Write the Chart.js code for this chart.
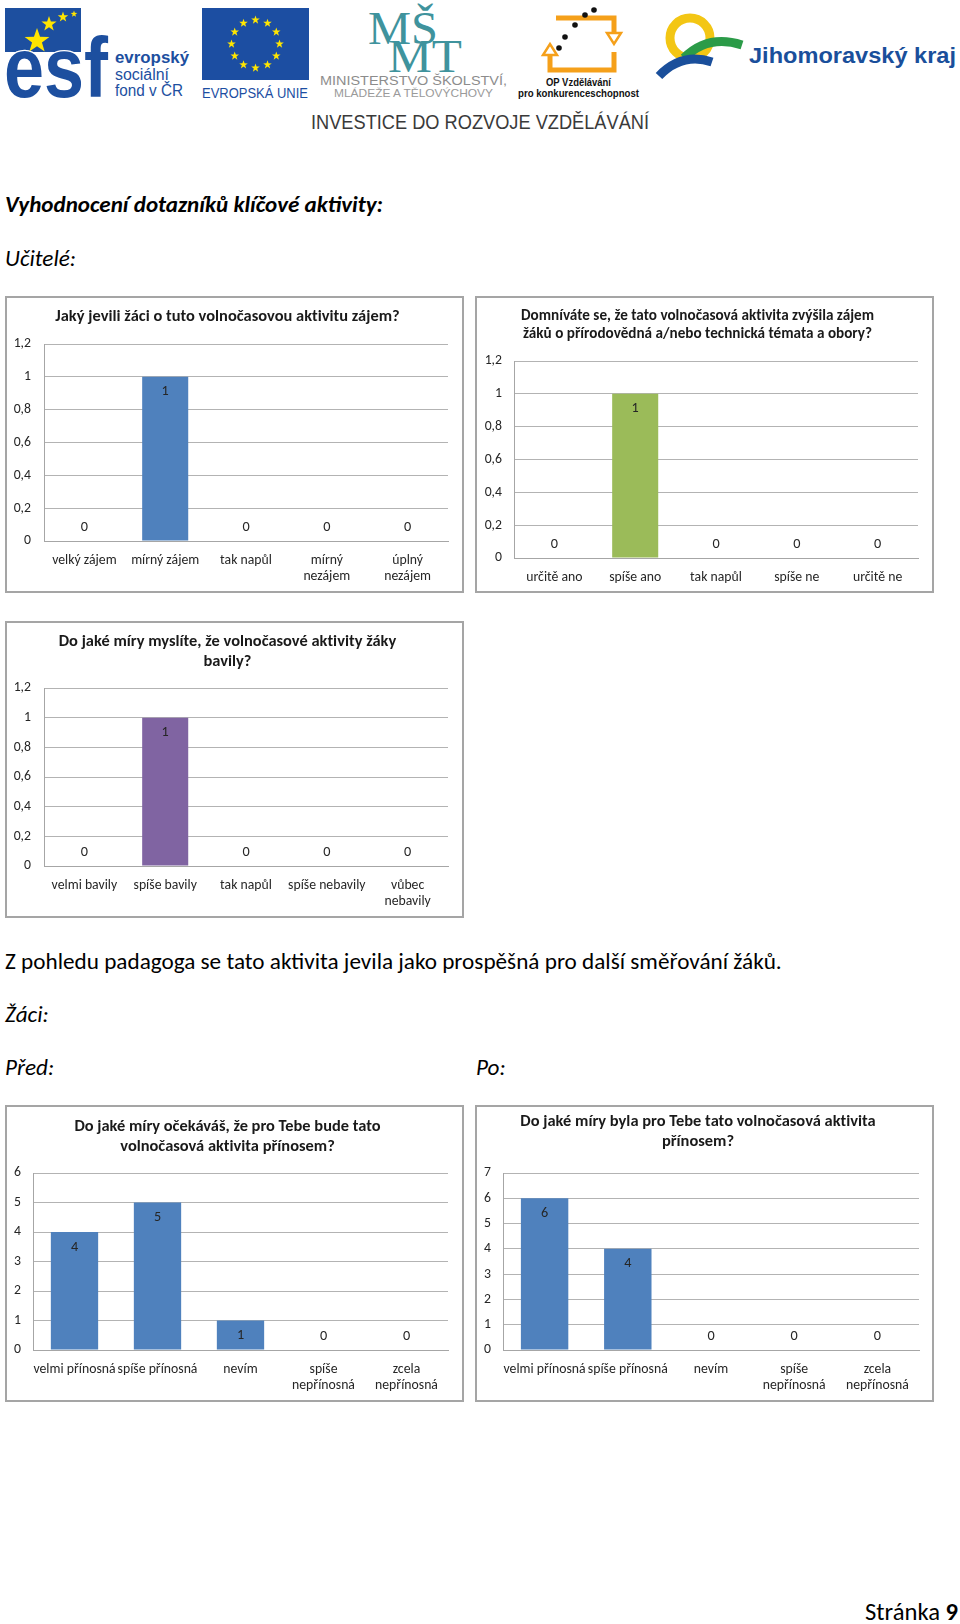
<!DOCTYPE html>
<html><head><meta charset="utf-8">
<script src="https://cdn.jsdelivr.net/npm/chart.js@4/dist/chart.umd.min.js"></script>
<style>
html,body{margin:0;padding:0;background:#fff;}
body{width:960px;height:1624px;position:relative;overflow:hidden;color:#000;}
.t{position:absolute;white-space:nowrap;line-height:1;font-variant-ligatures:none;}
.box{position:absolute;width:455px;height:293px;border:2px solid #a5a5a5;background:#fff;}
.box canvas{display:block;}
#hdr{position:absolute;left:0;top:0;}
</style></head><body>
<svg id="hdr" width="960" height="140" xmlns="http://www.w3.org/2000/svg"></svg>

<div class="t" id="tHead">Vyhodnocení dotazníků klíčové aktivity:</div>
<div class="t" id="tUcitele">Učitelé:</div>
<div class="t" id="tZ">Z pohledu padagoga se tato aktivita jevila jako prospěšná pro další směřování žáků.</div>
<div class="t" id="tZaci">Žáci:</div>
<div class="t" id="tPred">Před:</div>
<div class="t" id="tPo">Po:</div>
<div class="t" id="tPage">Stránka <b>9</b></div>

<div class="box" style="left:5px;top:296px"><canvas id="c1" width="455" height="293"></canvas></div>
<div class="box" style="left:475px;top:296px"><canvas id="c2" width="455" height="293"></canvas></div>
<div class="box" style="left:5px;top:621px"><canvas id="c3" width="455" height="293"></canvas></div>
<div class="box" style="left:5px;top:1105px"><canvas id="c4" width="455" height="293"></canvas></div>
<div class="box" style="left:475px;top:1105px"><canvas id="c5" width="455" height="293"></canvas></div>

<script>
// ---------- DATA ----------
const title1 = ['Jaký jevili žáci o tuto volnočasovou aktivitu zájem?'];
const categories1 = ['velký zájem', 'mírný zájem', 'tak napůl', ['mírný', 'nezájem'], ['úplný', 'nezájem']];
const values1 = [0, 1, 0, 0, 0];

const title2 = ['Domníváte se, že tato volnočasová aktivita zvýšila zájem', 'žáků o přírodovědná a/nebo technická témata a obory?'];
const categories2 = ['určitě ano', 'spíše ano', 'tak napůl', 'spíše ne', 'určitě ne'];
const values2 = [0, 1, 0, 0, 0];

const title3 = ['Do jaké míry myslíte, že volnočasové aktivity žáky', 'bavily?'];
const categories3 = ['velmi bavily', 'spíše bavily', 'tak napůl', 'spíše nebavily', ['vůbec', 'nebavily']];
const values3 = [0, 1, 0, 0, 0];

const title4 = ['Do jaké míry očekáváš, že pro Tebe bude tato', 'volnočasová aktivita přínosem?'];
const categories4 = ['velmi přínosná', 'spíše přínosná', 'nevím', ['spíše', 'nepřínosná'], ['zcela', 'nepřínosná']];
const values4 = [4, 5, 1, 0, 0];

const title5 = ['Do jaké míry byla pro Tebe tato volnočasová aktivita', 'přínosem?'];
const categories5 = ['velmi přínosná', 'spíše přínosná', 'nevím', ['spíše', 'nepřínosná'], ['zcela', 'nepřínosná']];
const values5 = [6, 4, 0, 0, 0];

const ticksDecimal = ['0', '0,2', '0,4', '0,6', '0,8', '1', '1,2'];
const ticksSix = ['0', '1', '2', '3', '4', '5', '6'];
const ticksSeven = ['0', '1', '2', '3', '4', '5', '6', '7'];
const yMaxDecimal = 1.2, yStepDecimal = 0.2;
const yMaxSix = 6, yMaxSeven = 7, yStepUnit = 1;

// ---------- HELPERS ----------
const FAM = "Carlito, Lato, 'Open Sans', sans-serif";
const mctx = document.createElement('canvas').getContext('2d');
function fitSize(text, style, family, target) {
  mctx.font = style + ' 100px ' + family;
  return 100 * target / mctx.measureText(text).width;
}
function place(id, style, size, x, cy, alignRight) {
  const el = document.getElementById(id);
  el.style.font = style + ' ' + size.toFixed(2) + 'px ' + FAM;
  el.style.top = (cy - 0.58 * size) + 'px';
  if (alignRight) { el.style.right = (960 - x) + 'px'; } else { el.style.left = x + 'px'; }
}

// ---------- PAGE TEXT ----------
const headSize = fitSize('Vyhodnocení dotazníků klíčové aktivity:', 'italic bold', FAM, 378);
const bodySize = fitSize('Z pohledu padagoga se tato aktivita jevila jako prospěšná pro další směřování žáků.', 'normal', FAM, 777);
place('tHead', 'italic bold', headSize, 5, 203);
place('tUcitele', 'italic', bodySize, 5, 257);
place('tZ', 'normal', bodySize, 5, 960);
place('tZaci', 'italic', bodySize, 5, 1013);
place('tPred', 'italic', bodySize, 5, 1066);
place('tPo', 'italic', bodySize, 476, 1066);
place('tPage', 'normal', fitSize('Stránka 9', 'normal', FAM, 93), 958, 1611, true);

// ---------- HEADER LOGOS ----------
(function buildHeader() {
  const svg = document.getElementById('hdr');
  const NS = 'http://www.w3.org/2000/svg';
  function el(name, attrs, text) {
    const e = document.createElementNS(NS, name);
    for (const k in attrs) e.setAttribute(k, attrs[k]);
    if (text) e.textContent = text;
    svg.appendChild(e); return e;
  }
  function star(cx, cy, r, fill) {
    const pts = [];
    for (let i = 0; i < 10; i++) {
      const a = -Math.PI / 2 + i * Math.PI / 5;
      const rr = i % 2 ? r * 0.4 : r;
      pts.push((cx + rr * Math.cos(a)).toFixed(2) + ',' + (cy + rr * Math.sin(a)).toFixed(2));
    }
    el('polygon', { points: pts.join(' '), fill: fill });
  }
  const SANS = "'Liberation Sans', Arial, sans-serif";
  // ESF
  el('rect', { x: 5, y: 8, width: 76, height: 44, fill: '#1d4f9f' });
  el('text', { x: 4, y: 97, 'font-family': SANS, 'font-weight': 'bold', 'font-size': 86, fill: '#1d4f9f', stroke: '#fff', 'stroke-width': 2.5, textLength: 104, lengthAdjust: 'spacingAndGlyphs', 'paint-order': 'stroke' }, 'esf');
  star(37, 41, 13, '#ffe500'); star(49, 24, 8, '#ffe500'); star(63, 17, 5.5, '#ffe500'); star(74, 14, 3.5, '#ffe500');
  el('text', { x: 115, y: 63, 'font-family': SANS, 'font-weight': 'bold', 'font-size': 16, fill: '#1d4f9f', textLength: 74, lengthAdjust: 'spacingAndGlyphs' }, 'evropský');
  el('text', { x: 115, y: 80, 'font-family': SANS, 'font-size': 16, fill: '#1d4f9f', textLength: 54, lengthAdjust: 'spacingAndGlyphs' }, 'sociální');
  el('text', { x: 115, y: 96, 'font-family': SANS, 'font-size': 16, fill: '#1d4f9f', textLength: 68, lengthAdjust: 'spacingAndGlyphs' }, 'fond v ČR');
  // EU flag
  el('rect', { x: 202, y: 8, width: 107, height: 72, fill: '#1c4ea2' });
  for (let i = 0; i < 12; i++) {
    const a = i * Math.PI / 6;
    star(255.5 + 24 * Math.sin(a), 44 - 24 * Math.cos(a), 4.5, '#ffe600');
  }
  el('text', { x: 202, y: 98, 'font-family': SANS, 'font-size': 14, fill: '#1c4ea2', textLength: 106, lengthAdjust: 'spacingAndGlyphs' }, 'EVROPSKÁ UNIE');
  // MSMT
  const SERIF = "'Liberation Serif', 'DejaVu Serif', serif";
  el('text', { x: 368, y: 44, 'font-family': SERIF, 'font-size': 46, fill: '#3f939d', textLength: 70, lengthAdjust: 'spacingAndGlyphs' }, 'MŠ');
  el('text', { x: 388, y: 72, 'font-family': SERIF, 'font-size': 46, fill: '#3f939d', textLength: 74, lengthAdjust: 'spacingAndGlyphs' }, 'MT');
  el('text', { x: 320, y: 85, 'font-family': SANS, 'font-size': 12.5, fill: '#8c8c8c', textLength: 187, lengthAdjust: 'spacingAndGlyphs' }, 'MINISTERSTVO ŠKOLSTVÍ,');
  el('text', { x: 334, y: 97, 'font-family': SANS, 'font-size': 11, fill: '#9a9a9a', textLength: 159, lengthAdjust: 'spacingAndGlyphs' }, 'MLÁDEŽE A TĚLOVÝCHOVY');
  // OP
  el('path', { d: 'M556 18 H614 V33', stroke: '#f5a01a', 'stroke-width': 5, fill: 'none' });
  el('polygon', { points: '607,33 621,33 614,44', stroke: '#f5a01a', 'stroke-width': 2.5, fill: '#fff' });
  el('path', { d: 'M550 55 V70 H614 V52', stroke: '#f5a01a', 'stroke-width': 5, fill: 'none' });
  el('polygon', { points: '543,55 557,55 550,44', stroke: '#f5a01a', 'stroke-width': 2.5, fill: '#fff' });
  [[559, 48], [565, 37], [575, 25], [585, 15], [594, 10]].forEach(p => el('circle', { cx: p[0], cy: p[1], r: 2.8, fill: '#111' }));
  el('text', { x: 546, y: 86, 'font-family': SANS, 'font-weight': 'bold', 'font-size': 10, fill: '#111', textLength: 65, lengthAdjust: 'spacingAndGlyphs' }, 'OP Vzdělávání');
  el('text', { x: 518, y: 97, 'font-family': SANS, 'font-weight': 'bold', 'font-size': 10, fill: '#111', textLength: 121, lengthAdjust: 'spacingAndGlyphs' }, 'pro konkurenceschopnost');
  // Jihomoravsky kraj
  el('circle', { cx: 690, cy: 38, r: 20, stroke: '#f3c614', 'stroke-width': 9, fill: 'none' });
  el('path', { d: 'M684 58 Q708 34 742 45', stroke: '#2b9b48', 'stroke-width': 9, fill: 'none' });
  el('path', { d: 'M659 76 Q682 52 712 62', stroke: '#1a4f9b', 'stroke-width': 9, fill: 'none' });
  el('text', { x: 749, y: 63, 'font-family': SANS, 'font-weight': 'bold', 'font-size': 22, fill: '#1a4f9b', textLength: 207, lengthAdjust: 'spacingAndGlyphs' }, 'Jihomoravský kraj');
  // Investice
  el('text', { x: 311, y: 129, 'font-family': "'Liberation Sans Narrow', 'Liberation Sans', sans-serif", 'font-size': 20, fill: '#3a3a3a', textLength: 338, lengthAdjust: 'spacingAndGlyphs' }, 'INVESTICE DO ROZVOJE VZDĚLÁVÁNÍ');
})();

// ---------- CHARTS ----------
const catSize = fitSize('velmi přínosná', 'normal', FAM, 82);

const noLigatures = {
  id: 'noLigatures',
  beforeDraw(chart) { chart.ctx.letterSpacing = '0.01px'; }
};

const valueLabels = {
  id: 'valueLabels',
  afterDatasetsDraw(chart) {
    const ctx = chart.ctx;
    const meta = chart.getDatasetMeta(0);
    const data = chart.data.datasets[0].data;
    ctx.save();
    ctx.font = (catSize + 0.5).toFixed(2) + 'px ' + FAM;
    ctx.fillStyle = '#262626';
    ctx.textAlign = 'center';
    ctx.textBaseline = 'middle';
    meta.data.forEach((bar, i) => {
      const v = data[i];
      const y = v > 0 ? bar.y + 15 : bar.base - 14;
      ctx.fillText(String(v), bar.x, y);
    });
    ctx.restore();
  }
};

function makeChart(id, titleLines, cats, vals, color, tickLabels, yMax, yStep, L) {
  const ts = fitSize(titleLines[0], 'bold', FAM, L.titleW);
  new Chart(document.getElementById(id), {
    type: 'bar',
    data: { labels: cats, datasets: [{ data: vals, backgroundColor: color, borderWidth: 0, barPercentage: 0.57, categoryPercentage: 1 }] },
    options: {
      responsive: false, animation: false,
      layout: { padding: { left: 0, right: L.rp, top: 0, bottom: 0 } },
      plugins: {
        legend: { display: false }, tooltip: { enabled: false },
        title: { display: true, text: titleLines, color: '#1a1a1a',
          font: { family: FAM, size: ts, weight: 'bold', lineHeight: L.lh / ts },
          padding: { top: L.pt, bottom: L.pb } }
      },
      scales: {
        x: {
          grid: { display: false, drawTicks: false },
          border: { display: true, color: '#a6a6a6', width: 1 },
          ticks: { color: '#262626', padding: 12, maxRotation: 0, autoSkip: false,
            font: { family: FAM, size: catSize, lineHeight: 16 / catSize } },
          afterFit: s => { s.height = L.xH; }
        },
        y: {
          min: 0, max: yMax,
          grid: { color: '#b3b3b3', drawTicks: false },
          border: { display: true, color: '#a6a6a6', width: 1 },
          ticks: { stepSize: yStep, color: '#262626', padding: L.tp,
            font: { family: FAM, size: catSize },
            callback: (v, i) => tickLabels[i] },
          afterFit: s => { s.width = L.yW; }
        }
      }
    },
    plugins: [noLigatures, valueLabels]
  });
}

makeChart('c1', title1, categories1, values1, '#4f81bd', ticksDecimal, yMaxDecimal, yStepDecimal,
  { titleW: 344, lh: 16.8, pt: 10.6, pb: 18.6, yW: 37, xH: 50, rp: 14, tp: 13 });
makeChart('c2', title2, categories2, values2, '#9bbb59', ticksDecimal, yMaxDecimal, yStepDecimal,
  { titleW: 353, lh: 18, pt: 9, pb: 18, yW: 37, xH: 33, rp: 14, tp: 12 });
makeChart('c3', title3, categories3, values3, '#8064a2', ticksDecimal, yMaxDecimal, yStepDecimal,
  { titleW: 337, lh: 20, pt: 9, pb: 16, yW: 37, xH: 50, rp: 14, tp: 13 });
makeChart('c4', title4, categories4, values4, '#4f81bd', ticksSix, yMaxSix, yStepUnit,
  { titleW: 306, lh: 20, pt: 10, pb: 16, yW: 26, xH: 50, rp: 14, tp: 12 });
makeChart('c5', title5, categories5, values5, '#4f81bd', ticksSeven, yMaxSeven, yStepUnit,
  { titleW: 355, lh: 20, pt: 5, pb: 21, yW: 26, xH: 50, rp: 13, tp: 12 });
</script>
</body></html>
